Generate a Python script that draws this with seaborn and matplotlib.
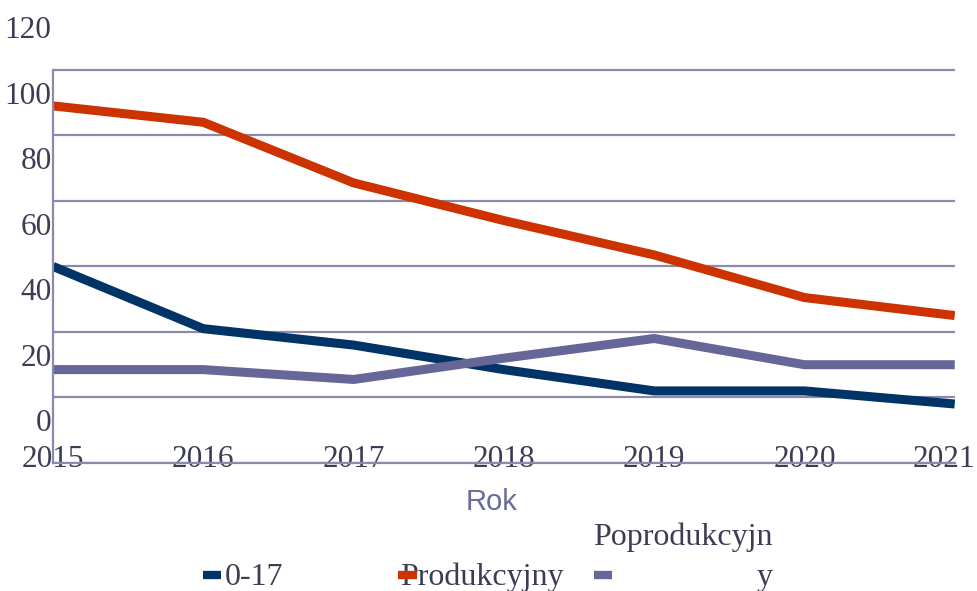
import numpy as np
import pandas as pd
import matplotlib
matplotlib.use("Agg")
import matplotlib.pyplot as plt
import matplotlib.transforms as mtransforms
import seaborn as sns
from matplotlib.lines import Line2D

lata = [2015, 2016, 2017, 2018, 2019, 2020, 2021]
przed = [47, 28, 23, 15.5, 9, 9, 5]          # 0-17
produkcyjny = [96, 91, 72.5, 61, 50.5, 37.5, 32]
poprodukcyjny = [15.5, 15.5, 12.5, 19, 25, 17, 17]
y_ticks = [0, 20, 40, 60, 80, 100, 120]

kolory = {"0-17": "#003366", "Produkcyjny": "#CC3300", "Poprodukcyjny": "#666699"}
siatka = "#8A8AAA"
tekst = "#3C3C55"

df = pd.DataFrame({
    "rok": lata * 3,
    "wartosc": przed + produkcyjny + poprodukcyjny,
    "grupa": ["0-17"] * 7 + ["Produkcyjny"] * 7 + ["Poprodukcyjny"] * 7,
})

sns.set_style("white")
plt.rcParams["font.family"] = ["Liberation Serif", "DejaVu Serif"]

fig = plt.figure(figsize=(9.78, 5.91), dpi=100)
ax = fig.add_axes([0.0542, 0.2166, 0.922, 0.7428])

sns.lineplot(data=df, x="rok", y="wartosc", hue="grupa", palette=kolory,
             hue_order=["0-17", "Produkcyjny", "Poprodukcyjny"],
             linewidth=6.5, legend=False, ax=ax)
for ln in ax.get_lines():
    ln.set_solid_capstyle("butt")
    ln.set_solid_joinstyle("miter")

ax.set_xlim(2015, 2021)
ax.set_ylim(-13, 121)
ax.set_xticks(lata)
ax.set_xticklabels([str(r) for r in lata])
ax.set_yticks(y_ticks)
ax.set_yticklabels([str(v) for v in y_ticks])
ax.set_yticks(np.array(y_ticks) - 13, minor=True)
ax.grid(False)
ax.grid(True, which="minor", axis="y", color=siatka, linewidth=1.6)
ax.set_axisbelow(True)

for s in ["top", "right"]:
    ax.spines[s].set_visible(False)
for s in ["left", "bottom"]:
    ax.spines[s].set_color(siatka)
    ax.spines[s].set_linewidth(1.6)
ax.spines["left"].set_bounds(-13, 107)

ax.tick_params(which="both", length=0)
ax.tick_params(axis="y", labelsize=22.5, labelcolor=tekst, pad=1)
ax.tick_params(axis="x", labelsize=22.5, labelcolor=tekst, pad=-13)

# ostatnia etykieta przesunięta w lewo, żeby się zmieściła
ostatnia = ax.get_xticklabels()[-1]
ostatnia.set_transform(ostatnia.get_transform() +
                       mtransforms.ScaledTranslation(-11 / 100, 0, fig.dpi_scale_trans))

ax.set_ylabel("")
ax.set_xlabel("Rok", fontsize=21, color="#6B6B9A", family="Liberation Sans")
ax.xaxis.set_label_coords(0.486, -0.057)

uchwyty = [Line2D([], [], color=kolory[k], linewidth=6, solid_capstyle="butt")
           for k in ["0-17", "Produkcyjny", "Poprodukcyjny"]]
fig.legend(uchwyty, ["", "", ""], ncol=3, loc="center left",
           bbox_to_anchor=(0.2075, 0.022), frameon=False, fontsize=22,
           handlelength=0.6, handletextpad=0, columnspacing=5.8,
           borderpad=0, borderaxespad=0)

fig.text(225 / 978, 1 - 585 / 591, "0-17", fontsize=23, color=tekst, va="baseline")
fig.text(400 / 978, 1 - 585 / 591, "Produkcyjny", fontsize=23, color=tekst, va="baseline")
fig.text(593 / 978, 1 - 545 / 591, "Poprodukcyjn", fontsize=23, color=tekst, va="baseline")
fig.text(757 / 978, 1 - 585 / 591, "y", fontsize=23, color=tekst, va="baseline")

fig.savefig("out.png", dpi=100)
